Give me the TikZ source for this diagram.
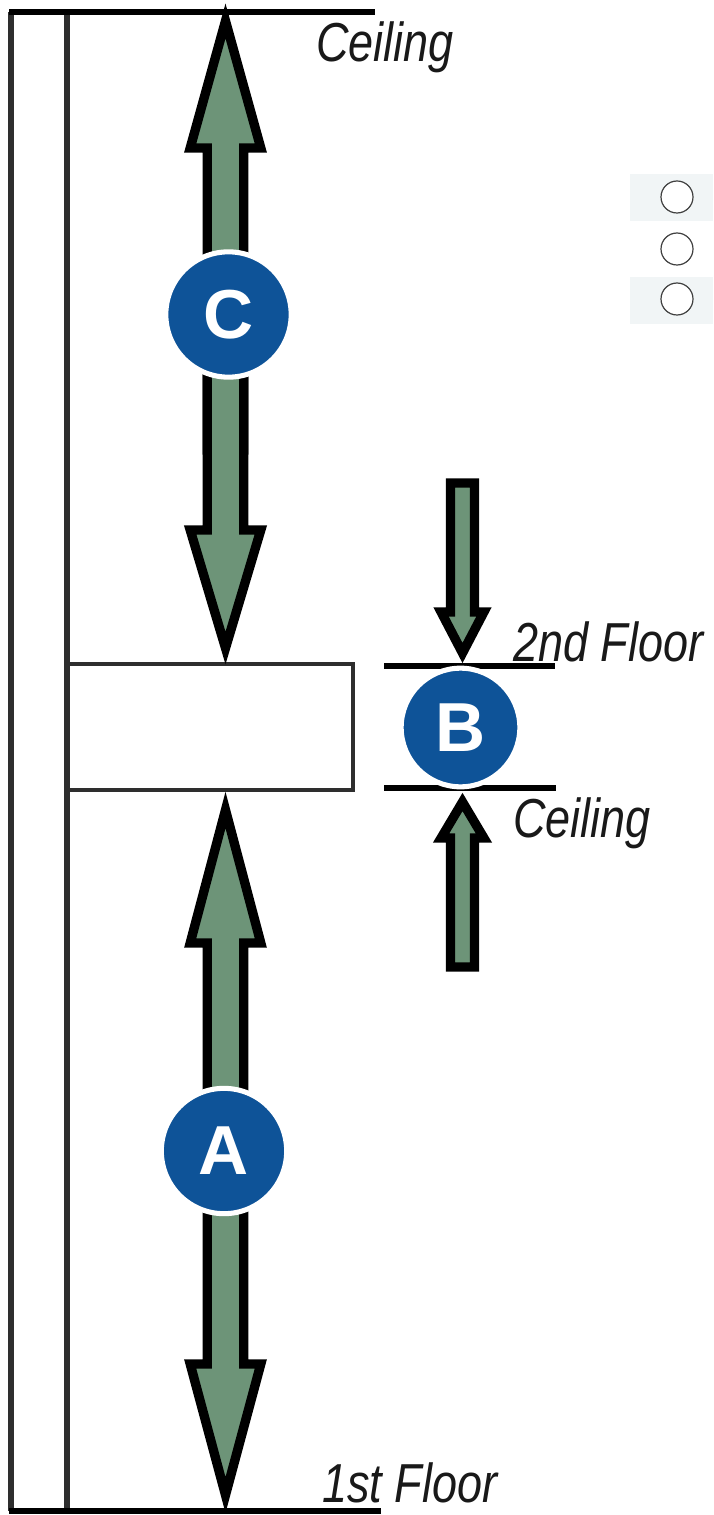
\documentclass[tikz,border=0pt]{standalone}
\usepackage{fontspec}
\setmainfont{Liberation Sans}
\definecolor{arrowgreen}{HTML}{6D9478}
\definecolor{badgeblue}{HTML}{0E5398}
\definecolor{wallgray}{HTML}{2E2E2E}
\definecolor{panelgray}{HTML}{F1F5F6}
\newcommand{\blockarrow}[6]{% x, tip y, base y, end y, shaft half, head half
  \draw[arrowbody] (#1,#2) -- (#1+#6,#3) -- (#1+#5,#3) -- (#1+#5,#4) -- (#1-#5,#4) -- (#1-#5,#3) -- (#1-#6,#3) -- cycle;}
\tikzset{
  arrowbody/.style={draw=black,fill=arrowgreen,line width=7pt,miter limit=10,line join=miter},
  wallline/.style={draw=wallgray,line width=4.2pt},
  floorline/.style={draw=black,line width=3.8pt},
  badge/.style={circle,fill=badgeblue,draw=white,line width=3.8pt,inner sep=0pt,text=white,font=\fontsize{52}{52}\selectfont\bfseries},
  caption/.style={anchor=base west,inner sep=0pt,text=black!90},
  radio/.style={circle,draw=black!75,fill=white,line width=0.9pt,minimum size=24pt,inner sep=0pt},
  panel/.style={fill=panelgray,draw=none}
}
\newcommand{\lbl}[1]{\scalebox{1}[1.22]{\fontsize{33.75}{40}\selectfont\itshape #1}}
\newcommand{\bdg}[1]{\raisebox{-1.5pt}{#1}}
\begin{document}
\begin{tikzpicture}[x=0.75pt,y=-0.75pt]
\useasboundingbox[fill=white] (0,0) rectangle (713,1515);
% radio panels
\fill[panel] (630,174) rectangle (713,221);
\fill[panel] (630,277) rectangle (713,324);
\node[radio] (r1) at (677,197) {};
\node[radio] (r2) at (677,249) {};
\node[radio] (r3) at (677,299) {};
% wall
\draw[wallline] (11,12) -- (11,1511);
\draw[wallline] (67,12) -- (67,1511);
\draw[floorline] (9,12) -- (375,12);
\draw[floorline,line width=4.4pt] (9,1511) -- (381,1511);
% slab
\draw[wallline,line width=3.6pt] (67,664) -- (353,664) -- (353,790) -- (67,790);
\draw[floorline] (384,666) -- (555,666);
\draw[floorline] (384,788) -- (556,788);
% arrows
\blockarrow{225.5}{21}{148}{450}{18.3}{35.3}
\blockarrow{225.5}{648}{530}{300}{18.3}{35.3}
\blockarrow{225.5}{810}{943}{1200}{18.3}{35.3}
\blockarrow{225.5}{1495}{1364}{1100}{18.3}{35.3}
\blockarrow{462.5}{653}{612}{483}{12}{21.4}
\blockarrow{462.5}{802}{838}{967}{12}{21.4}
% labels
\node[caption] (t1) at (316,62) {\lbl{Ceiling}};
\node[caption] (t2) at (513,661) {\lbl{2nd Floor}};
\node[caption] (t3) at (513,837) {\lbl{Ceiling}};
\node[caption] (t4) at (322,1502) {\lbl{1st Floor}};
% badges
\node[badge,minimum size=94pt] (c) at (228.5,314.5) {\bdg{C}};
\node[badge,minimum size=89pt] (b) at (460.5,727.5) {\bdg{B}};
\node[badge,minimum size=94pt] (a) at (224,1151) {\bdg{A}};
\end{tikzpicture}
\end{document}
